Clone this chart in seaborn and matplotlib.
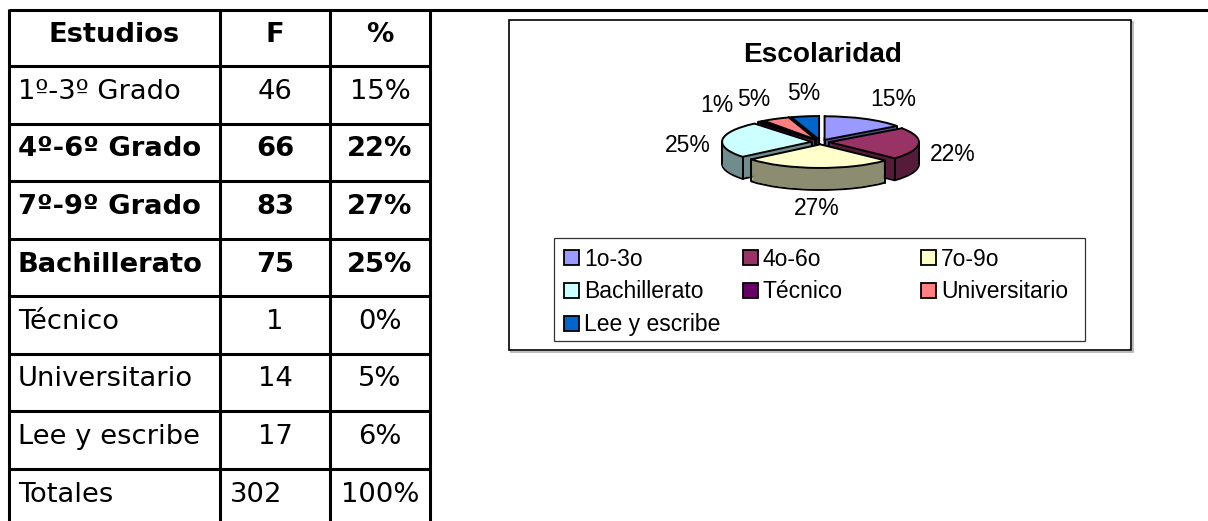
# =========================================
# ESCOLARIDAD: TABLA + PASTEL 3D
# =========================================

import numpy as np
import matplotlib
matplotlib.use("Agg")
import matplotlib.pyplot as plt
from matplotlib.patches import Rectangle
import seaborn as sns


# =========================================
# DATOS
# =========================================

encabezados = ["Estudios", "F", "%"]

estudios = [
    "1º-3º Grado",
    "4º-6º Grado",
    "7º-9º Grado",
    "Bachillerato",
    "Técnico",
    "Universitario",
    "Lee y escribe",
]

frecuencia = [46, 66, 83, 75, 1, 14, 17]

porcentaje = ["15%", "22%", "27%", "25%", "0%", "5%", "6%"]

filas_negrita = [1, 2, 3]

total_etiqueta = "Totales"
total_f = 302
total_pct = "100%"

titulo_grafico = "Escolaridad"

leyenda = [
    "1o-3o",
    "4o-6o",
    "7o-9o",
    "Bachillerato",
    "Técnico",
    "Universitario",
    "Lee y escribe",
]

pie_valores = [15, 22, 27, 25, 1, 5, 5]


# =========================================
# ESTILO
# =========================================

sns.set_theme(style="white")
plt.rcParams["font.family"] = ["DejaVu Sans"]
plt.rcParams["text.color"] = "black"

colores = sns.color_palette(
    ["#9999FF", "#993366", "#FFFFCC", "#CCFFFF",
     "#660066", "#FF8080", "#0066CC"]
)
lados = [tuple(np.array(c) * 0.55) for c in colores]

W, H = 1208, 521

fig = plt.figure(figsize=(W / 100, H / 100), dpi=100)

ax = fig.add_axes([0, 0, 1, 1])
ax.set_xlim(0, W)
ax.set_ylim(H, 0)
ax.axis("off")


# =========================================
# TABLA
# =========================================

col_x = [9, 220, 330, 430]
top = 10
header_h = 56
row_h = 57.5
lw_tabla = 2.2

n_filas = len(estudios) + 1
row_tops = [top + header_h + i * row_h for i in range(n_filas)]

ax.plot([col_x[0], W], [top, top], color="black", lw=lw_tabla,
        solid_capstyle="butt")

for y in row_tops:
    ax.plot([col_x[0], col_x[-1]], [y, y], color="black", lw=lw_tabla,
            solid_capstyle="butt")

for x in col_x:
    ax.plot([x, x], [top - 1, H], color="black", lw=lw_tabla,
            solid_capstyle="butt")

fs_tabla = 19.7
centros = [(col_x[i] + col_x[i + 1]) / 2 for i in range(3)]

for i, txt in enumerate(encabezados):
    ax.text(centros[i], top + 32, txt, ha="center", va="baseline",
            fontsize=fs_tabla, fontweight="bold")

for i, nombre in enumerate(estudios):
    yb = row_tops[i] + 33
    peso = "bold" if i in filas_negrita else "normal"
    ax.text(col_x[0] + 9, yb, nombre, ha="left", va="baseline",
            fontsize=fs_tabla, fontweight=peso)
    ax.text(centros[1], yb, str(frecuencia[i]), ha="center",
            va="baseline", fontsize=fs_tabla, fontweight=peso)
    ax.text(centros[2], yb, porcentaje[i], ha="center",
            va="baseline", fontsize=fs_tabla, fontweight=peso)

yb = row_tops[-1] + 33
ax.text(col_x[0] + 9, yb, total_etiqueta, ha="left", va="baseline",
        fontsize=fs_tabla)
ax.text(col_x[1] + 10, yb, str(total_f), ha="left", va="baseline",
        fontsize=fs_tabla)
ax.text(centros[2], yb, total_pct, ha="center", va="baseline",
        fontsize=fs_tabla)


# =========================================
# MARCO DEL GRAFICO, TITULO Y LEYENDA
# =========================================

fuente_xl = "Liberation Sans"
fs_xl = 16.5

caja = (509, 20, 1131, 350)
ax.add_patch(Rectangle((caja[0] + 2, caja[1] + 2), caja[2] - caja[0],
                       caja[3] - caja[1], fill=False, ec="#b0b0b0", lw=1.2))
ax.add_patch(Rectangle((caja[0], caja[1]), caja[2] - caja[0],
                       caja[3] - caja[1], fc="white", ec="black", lw=1.2))

ax.text((caja[0] + caja[2]) / 2 + 3, 62, titulo_grafico, ha="center",
        va="baseline", fontsize=20.2, fontweight="bold", family=fuente_xl)

ley = (554, 238, 1085, 341)
ax.add_patch(Rectangle((ley[0], ley[1]), ley[2] - ley[0], ley[3] - ley[1],
                       fill=False, ec="#333333", lw=0.9))

for i, etiqueta in enumerate(leyenda):
    fila, col = divmod(i, 3)
    x0 = 564 + col * 178.5
    yc = 257 + fila * 33
    ax.add_patch(Rectangle((x0, yc - 7.5), 15, 15, fc=colores[i],
                           ec="black", lw=1.3))
    ax.text(x0 + 20, yc + 8.5, etiqueta, ha="left", va="baseline",
            fontsize=fs_xl, family=fuente_xl)


# =========================================
# PASTEL 3D (CAPAS APILADAS)
# =========================================

cx, cy = 820.5, 142
a, b = 89.5, 23.6
prof = 22 / b

axp = fig.add_axes([0, 0, 1, 1])

comun = dict(startangle=90, counterclock=False,
             explode=[0.1] * len(pie_valores), radius=1)

base, _ = axp.pie(pie_valores, colors=lados, center=(0, -prof),
                  wedgeprops=dict(edgecolor="black", linewidth=1.4,
                                  zorder=1), **comun)

n_capas = 24
for k in range(1, n_capas + 1):
    yo = -prof + prof * k / n_capas
    axp.pie(pie_valores, colors=lados, center=(0, yo),
            wedgeprops=dict(linewidth=0, zorder=1), **comun)

# aristas verticales de las paredes
for w in base:
    cxw, cyw = w.center
    angulos = [w.theta1, w.theta2]
    for k in range(-3, 4):
        if w.theta1 < 180 * k < w.theta2:
            angulos.append(180 * k)
    for ang in angulos:
        t = np.deg2rad(ang)
        px = cxw + np.cos(t)
        py = cyw + np.sin(t)
        axp.plot([px, px], [py, py + prof], color="black", lw=1.4,
                 zorder=1.5)
    axp.plot([cxw, cxw], [cyw, cyw + prof], color="black", lw=1.4,
             zorder=1.5)

caras, _ = axp.pie(pie_valores, colors=colores,
                   wedgeprops=dict(edgecolor="black", linewidth=1.4,
                                   zorder=2), **comun)

for w, v in zip(caras, pie_valores):
    t = np.deg2rad((w.theta1 + w.theta2) / 2)
    c = np.cos(t)
    if abs(c) < 0.2:
        ha = "center"
    elif c > 0:
        ha = "left"
    else:
        ha = "right"
    # las porciones muy finas llevan la etiqueta algo mas afuera
    rx = 1.58 if v < 3 else 1.23
    axp.text(rx * c, -0.38 + 2.46 * np.sin(t), f"{v}%", ha=ha,
             va="center", fontsize=fs_xl, family=fuente_xl, zorder=3)

axp.set_aspect("auto")
axp.set_xlim(-cx / a, (W - cx) / a)
axp.set_ylim(-(H - cy) / b, cy / b)
axp.axis("off")


# =========================================
# GUARDAR
# =========================================

fig.savefig("out.png", dpi=100)
